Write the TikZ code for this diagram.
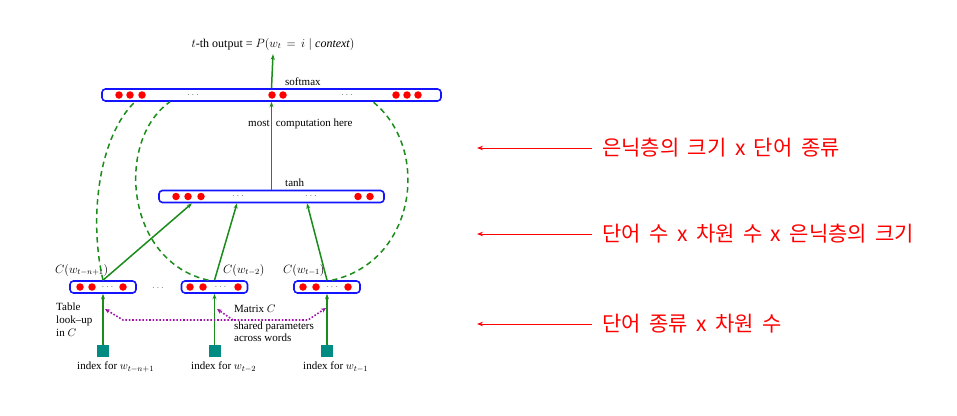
\documentclass[tikz,border=0pt]{standalone}
\usepackage{fontspec}
\setmainfont{Liberation Serif}
\newfontfamily\kfont{Noto Sans CJK KR}[WordSpace=1.8]
\usetikzlibrary{arrows.meta,calc}
\definecolor{barblue}{RGB}{20,20,255}
\definecolor{dgreen}{RGB}{25,140,25}
\definecolor{sqteal}{RGB}{0,140,130}
\definecolor{pdotc}{RGB}{160,20,170}
\begin{document}
\begin{tikzpicture}[x=1pt,y=-1pt,
  bar/.style={draw=barblue, line width=1.6pt, rounded corners=3.5pt, minimum height=12pt, inner sep=0pt},
  dot/.style={circle, fill=red, minimum size=7.5pt, inner sep=0pt},
  ell/.style={font=\fontsize{10}{10}\selectfont, text=black!55, inner sep=0pt},
  lbl/.style={font=\fontsize{11}{13}\selectfont, inner sep=0pt},
  mlbl/.style={font=\fontsize{12}{13}\selectfont, inner sep=0pt},
  garrow/.style={draw=dgreen, line width=1.5pt, -{Stealth[length=5.5pt,width=4pt]}},
  gdash/.style={draw=dgreen, line width=1.5pt, dash pattern=on 5.5pt off 4pt},
  sq/.style={fill=sqteal, minimum size=12pt, inner sep=0pt},
  pdot/.style={draw=pdotc, line width=1.6pt, dash pattern=on 1.6pt off 1.8pt},
  ktext/.style={font=\kfont\fontsize{21}{22}\selectfont, text=red, inner xsep=10pt, inner ysep=0pt, anchor=west},
  rarrow/.style={draw=red, line width=0.8pt, -{Stealth[length=6pt,width=4.5pt]}}
]
\useasboundingbox (0,0) rectangle (957,415);

% output label
\node[mlbl, inner ysep=4pt] (out) at (273,44) {$t$-th output = $P(w_t\,=\,i\mid \mathit{context})$};

% top bar
\node[bar, minimum width=339pt] (top) at (271.5,95) {};
\foreach \x in {119,130,142,272,283,396,407,418} \node[dot] (td\x) at (\x,95) {};
\node[ell] (te1) at (193,95) {$\cdots$};
\node[ell] (te2) at (347,95) {$\cdots$};
\node[lbl, anchor=west] (sm) at (285,82) {softmax};
\node[lbl, anchor=west] (mc) at (248,124) {most\hspace{3.5pt} computation here};

% middle bar
\node[bar, minimum width=225pt] (mid) at (271.5,196.5) {};
\foreach \x in {176,188,201,358,370} \node[dot] (md\x) at (\x,196.5) {};
\node[ell] (me1) at (238,196.5) {$\cdots$};
\node[ell] (me2) at (311,196.5) {$\cdots$};
\node[lbl, anchor=west] (th) at (285,183) {tanh};

% bottom bars
\node[bar, minimum width=66pt] (lb) at (103,287) {};
\node[bar, minimum width=66pt] (mb) at (214.5,287) {};
\node[bar, minimum width=66pt] (rb) at (327,287) {};
\foreach \x in {80,92,123,190,203,238,303,316,348} \node[dot] (bd\x) at (\x,287) {};
\node[ell] (be1) at (107.5,287) {$\cdots$};
\node[ell] (be2) at (220.5,287) {$\cdots$};
\node[ell] (be3) at (332,287) {$\cdots$};
\node[ell] (bgap) at (158,288) {$\cdots$};

\node[mlbl, anchor=west] (c1) at (55,270) {$C(w_{t-n+1})$};
\node[mlbl, anchor=west] (c2) at (223,270) {$C(w_{t-2})$};
\node[mlbl, anchor=west] (c3) at (283,270) {$C(w_{t-1})$};

% input squares
\node[sq] (s1) at (103,351) {};
\node[sq] (s2) at (214.5,351) {};
\node[sq] (s3) at (327,351) {};
\node[lbl, anchor=west] (i1) at (77,367) {index for $w_{t-n+1}$};
\node[lbl, anchor=west] (i2) at (191,367) {index for $w_{t-2}$};
\node[lbl, anchor=west] (i3) at (303,367) {index for $w_{t-1}$};

\node[lbl, anchor=north west, align=left] (tl) at (56,303) {Table\\look--up\\in $C$};
\node[lbl, anchor=west] (mx) at (234,309) {Matrix $C$};
\node[lbl, anchor=north west, align=left, font=\fontsize{11}{12}\selectfont] (sp) at (234,322) {shared parameters\\across words};

% green arrows
\draw[garrow] (s1.north) -- (lb.south);
\draw[garrow] (s2.north) -- (mb.south);
\draw[garrow] (s3.north) -- (rb.south);
\draw[garrow] (lb.north) -- ($(mid.south)+(-79.5,0)$);
\draw[garrow] (mb.north) -- ($(mid.south)+(-34.5,0)$);
\draw[garrow] (rb.north) -- ($(mid.south)+(35.5,0)$);
\draw[garrow] (mid.north) -- (top.south);
\draw[garrow] (top.north) -- (out.south);

% dashed curves
\draw[gdash] (lb.north) .. controls (88,215) and (100,135) .. ($(top.south)+(-136.5,0)$);
\draw[gdash] ($(mb.north)+(-6,0)$) .. controls (125,262) and (115,140) .. ($(top.south)+(-101.5,0)$);
\draw[gdash] ($(rb.north)+(5,0)$) .. controls (415,262) and (432,150) .. ($(top.south)+(101.5,0)$);

% purple dotted
\coordinate (p1) at (105,309);
\coordinate (p2) at (123,320);
\coordinate (p3) at (308,320);
\coordinate (p4) at (326,308);
\coordinate (p5) at (233,320);
\coordinate (p6) at (217,309);
\draw[pdot, {Stealth[length=5pt,width=4.5pt]}-{Stealth[length=5pt,width=4.5pt]}] (p1) -- (p2) -- (p3) -- (p4);
\draw[pdot, -{Stealth[length=5pt,width=4.5pt]}] (p5) -- (p6);

% red annotations
\node[ktext] (k1) at (592,148) {은닉층의 크기 x 단어 종류};
\node[ktext] (k2) at (592,234) {단어 수 x 차원 수 x 은닉층의 크기};
\node[ktext] (k3) at (592,324) {단어 종류 x 차원 수};
\coordinate (e1) at (477,148);
\coordinate (e2) at (477,234);
\coordinate (e3) at (477,324);
\draw[rarrow] (k1.west) -- (e1);
\draw[rarrow] (k2.west) -- (e2);
\draw[rarrow] (k3.west) -- (e3);
\end{tikzpicture}
\end{document}
